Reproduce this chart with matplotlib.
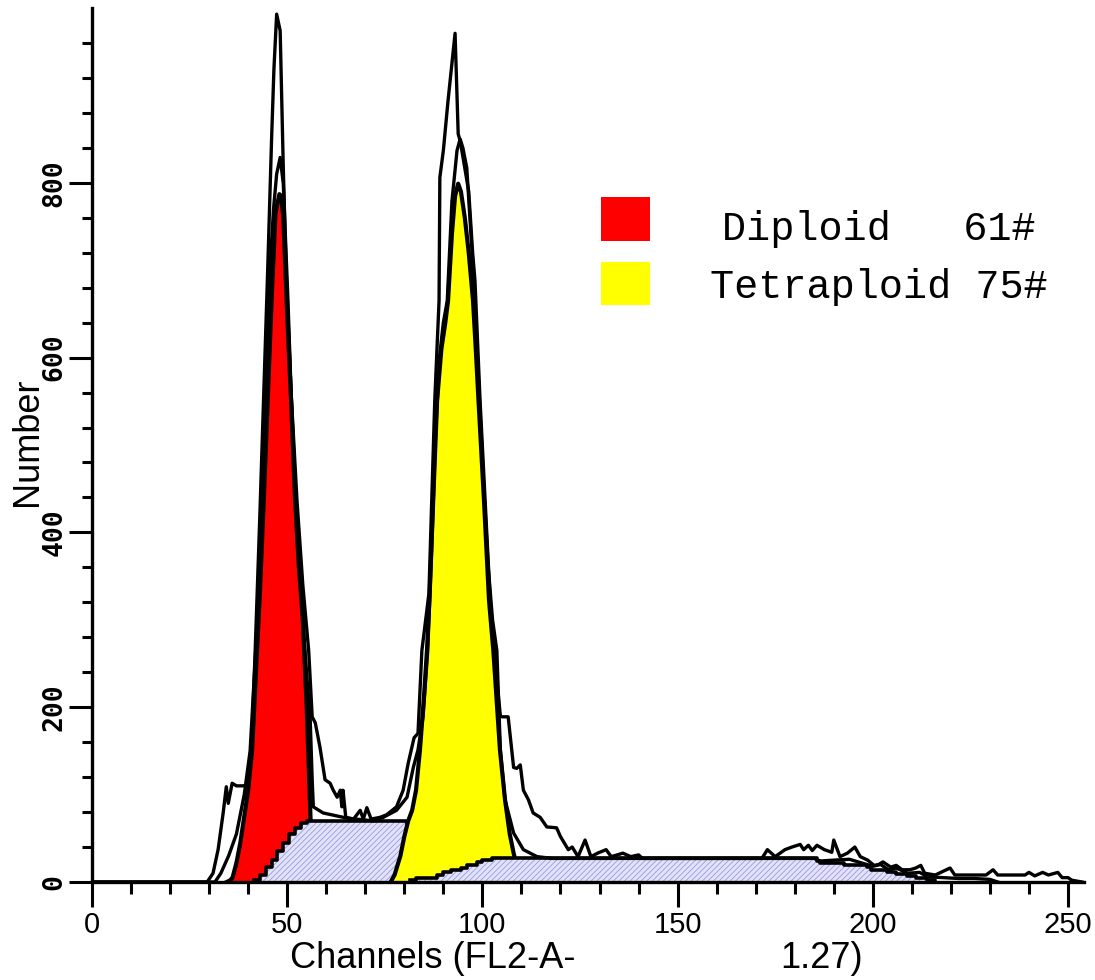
import matplotlib
matplotlib.use("Agg")
import matplotlib.pyplot as plt
from matplotlib.patches import Rectangle
from matplotlib.ticker import MultipleLocator, FixedLocator

# ---- data (channel, count) ----
# outer raw histogram
A_ch = [0, 29.5, 31, 32.3, 33.6, 34.4, 34.9, 35.9, 37, 38.7, 39.7, 40.3, 41, 41.8, 43, 44, 45, 46, 46.6, 47.3,
        48.2, 48.6, 49, 49.7, 51, 52.5, 54, 55.5, 56.4, 57.2, 58.4, 59.7, 61, 61.8, 62.8, 63.6, 64, 64.3, 65, 67,
        68.7, 69.5, 70.4, 71.5, 73.8, 75.5, 78, 79.7, 81, 82.5, 83.5, 84.5, 86.3, 87.8, 88.9, 89.1, 90, 91.2, 93, 93.8,
        94.3, 95, 96.5, 97.5, 98.1, 99.4, 100.7, 102, 103.5, 104.6, 105, 106.6, 108, 108.8, 109.7, 110.5, 111.8, 113, 114.8, 116.5,
        119, 120, 122, 123, 124.5, 126.3, 127.8, 129.5, 131.7, 133, 136, 138, 140, 141, 171.6, 173, 175, 177.5, 179.3, 181.4,
        182.3, 183.5, 184.5, 185.7, 187.6, 189.5, 190, 191.6, 193.5, 195.4, 196.8, 198.7, 200.3, 201.5, 202.6, 204.6, 206, 207.5, 209.5, 211,
        212.3, 213.3, 216, 219.8, 221, 224, 229, 230.8, 232, 233.8, 239, 240, 241.5, 243.5, 245, 247.4, 248.5, 250, 251, 253.6]
A_val = [0, 0, 10, 37, 79, 109, 90, 113, 110, 110, 111, 125, 170, 265, 420, 560, 700, 850, 930, 993,
         974, 894, 817, 703, 560, 437, 340, 265, 189, 182, 154, 117, 113, 105, 97, 105, 86, 105, 74, 72,
         82, 72, 85, 72, 74, 77, 86, 105, 136, 165, 170, 265, 330, 551, 665, 806, 837, 894, 971, 856,
         848, 830, 790, 720, 688, 551, 437, 322, 240, 190, 189, 189, 131, 130, 134, 105, 94, 79, 74, 63,
         62, 52, 37, 40, 29, 48, 29, 33, 37, 29, 33, 29, 31, 27, 27, 37, 29, 37, 40, 43,
         37, 42, 36, 42, 37, 34, 48, 29, 33, 40, 29, 25, 19, 20, 23, 17, 19, 14, 14, 16,
         19, 10, 8, 16, 8, 8, 8, 14, 8, 8, 8, 11, 7, 11, 8, 11, 5, 5, 2, 0]

# second overlaid histogram
B_ch = [0, 31.5, 33, 35, 37, 39, 40.5, 42, 43, 44, 45, 45.6, 46.5, 47.3, 48.2, 49, 50.2, 51, 52, 53,
        54, 55.1, 55.9, 56.4, 56.7, 59.2, 65.4, 72, 74.6, 78, 80.7, 82.3, 83.5, 84.8, 86, 87, 88, 89, 90, 91,
        92.2, 93.5, 94.3, 95, 96, 97.6, 98.5, 99.5, 100.5, 101.5, 102.6, 103.7, 104.6, 105.8, 108, 110.5, 114, 118, 185, 186.5,
        190, 194, 197, 200, 202, 204, 206, 209, 212, 214, 218, 222, 226, 230, 232]
B_val = [0, 0, 10, 30, 55, 100, 150, 270, 380, 500, 620, 703, 770, 810, 829, 799, 665, 560, 460, 370,
         300, 231, 185, 117, 86, 79, 73, 70, 74, 82, 97, 131, 151, 189, 265, 380, 510, 600, 640, 665,
         779, 837, 850, 840, 817, 703, 620, 530, 440, 360, 300, 265, 151, 94, 56, 37, 29, 27, 27, 24,
         25, 26, 22, 18, 20, 14, 16, 10, 11, 6, 5, 4, 4, 3, 0]

# diploid G1 peak (red)
R_ch = [34.5, 35.4, 36, 37, 38, 39, 40, 41, 42, 43, 44, 45, 46, 47, 48, 48.5, 49, 50, 51, 52,
        53, 54, 55, 56, 57, 58, 59]
R_val = [0, 2, 5, 22, 45, 75, 105, 150, 240, 330, 437, 550, 665, 765, 787, 785, 760, 650, 550, 440,
         360, 300, 200, 70, 35, 12, 0]

# tetraploid G1 peak (yellow)
Y_ch = [76.5, 77.5, 79, 80, 81, 82, 83, 84, 85, 85.8, 86.5, 87.4, 88.4, 89.5, 90.5, 91.2, 92.2, 93, 93.8, 94.5,
        95.5, 96.5, 97.6, 98.3, 99, 100.4, 101.7, 102.8, 104.5, 105.8, 107, 108, 109, 110]
Y_val = [0, 8, 30, 52, 70, 82, 105, 151, 210, 265, 330, 437, 551, 610, 640, 665, 742, 785, 799, 790,
         760, 720, 665, 610, 551, 437, 322, 265, 151, 94, 55, 33, 15, 0]

# S-phase components (hatched)
S1_ch = [41.5, 43, 44.5, 46, 47.5, 49, 50.5, 52, 53.5, 55, 80.8]
S1_val = [2, 8, 17, 25, 36, 45, 55, 62, 67, 70, 0]
S2_ch = [81.5, 83, 88.5, 90, 92, 94.5, 96, 98.5, 100, 102.5,
         185.7, 186.6, 192.5, 198.5, 199.5, 203.6, 206, 208.7, 211, 214, 216]
S2_val = [2, 5, 8, 11, 14, 16, 19, 23, 25, 27,
          24, 22, 20, 17, 14, 11, 9, 7, 5, 2, 0]

x_major = [0, 50, 100, 150, 200, 250]
y_major = [0, 200, 400, 600, 800]
legend_labels = ["Diploid   61#", "Tetraploid 75#"]

plt.rcParams["font.family"] = "Liberation Sans"
plt.rcParams["hatch.color"] = "#9a9ae2"
plt.rcParams["hatch.linewidth"] = 0.6

W, H = 1095, 980
fig = plt.figure(figsize=(W / 100, H / 100), dpi=100)
ax = fig.add_axes([92 / W, 98 / H, 991.6 / W, 874 / H])

hatch_face = "#e2e2f8"

ax.fill_between(R_ch, R_val, color="#ff0000", lw=0, zorder=2)
ax.plot(R_ch, R_val, color="black", lw=3.0, zorder=2.1)

ax.fill_between(S1_ch, S1_val, step="post", facecolor=hatch_face, edgecolor="#9a9ae2",
                hatch="//////", lw=0, zorder=3)
ax.plot(S1_ch, S1_val, drawstyle="steps-post", color="black", lw=2.6, zorder=3.1)

ax.fill_between(Y_ch, Y_val, color="#ffff00", lw=0, zorder=4)
ax.plot(Y_ch, Y_val, color="black", lw=3.0, zorder=4.1)

ax.fill_between(S2_ch, S2_val, step="post", facecolor=hatch_face, edgecolor="#9a9ae2",
                hatch="//////", lw=0, zorder=5)
ax.plot(S2_ch, S2_val, drawstyle="steps-post", color="black", lw=2.6, zorder=5.1)

ax.plot(B_ch, B_val, color="black", lw=2.4, zorder=6)
ax.plot(A_ch, A_val, color="black", lw=2.4, zorder=7)

ax.set_xlim(0, 254)
ax.set_ylim(0, 1000)
for side in ["top", "right"]:
    ax.spines[side].set_visible(False)
for side in ["left", "bottom"]:
    ax.spines[side].set_linewidth(2.4)
    ax.spines[side].set_zorder(10)

ax.xaxis.set_major_locator(FixedLocator(x_major))
ax.xaxis.set_minor_locator(MultipleLocator(10))
ax.yaxis.set_major_locator(FixedLocator(y_major))
ax.yaxis.set_minor_locator(FixedLocator(list(range(40, 1000, 40))))

ax.tick_params(axis="x", which="major", direction="out", length=18, width=2.2, labelsize=21, pad=3)
ax.tick_params(axis="x", which="minor", direction="out", length=8.6, width=2.2)
ax.tick_params(axis="y", which="major", direction="out", length=16.5, width=2.2, labelsize=19,
               pad=1, labelrotation=90)
ax.tick_params(axis="y", which="minor", direction="out", length=7.2, width=2.2)
ax.set_xticklabels([str(v) for v in x_major])
ax.set_yticklabels([str(v) for v in y_major])
for lab in ax.get_yticklabels():
    lab.set_fontfamily("DejaVu Sans Mono")
    lab.set_fontweight("bold")
    lab.set_verticalalignment("center")

fig.text(27 / W, 1 - 442 / H, "Number", rotation=90, fontsize=26, ha="center", va="center")
fig.text(290 / W, 1 - 958 / H, "Channels (FL2-A-", fontsize=26, ha="left", va="center")
fig.text(780 / W, 1 - 958 / H, "1.27)", fontsize=26, ha="left", va="center")

# legend boxes and labels
fig.patches.append(Rectangle((601 / W, 1 - 241 / H), 49 / W, 44 / H, transform=fig.transFigure,
                             facecolor="#ff0000", edgecolor="none"))
fig.patches.append(Rectangle((601 / W, 1 - 305 / H), 49 / W, 43 / H, transform=fig.transFigure,
                             facecolor="#ffff00", edgecolor="none"))
fig.text(722 / W, 1 - 240 / H, legend_labels[0], family="Liberation Mono", fontsize=29,
         ha="left", va="baseline")
fig.text(710 / W, 1 - 298 / H, legend_labels[1], family="Liberation Mono", fontsize=29,
         ha="left", va="baseline")

fig.savefig("out.png", dpi=100)
